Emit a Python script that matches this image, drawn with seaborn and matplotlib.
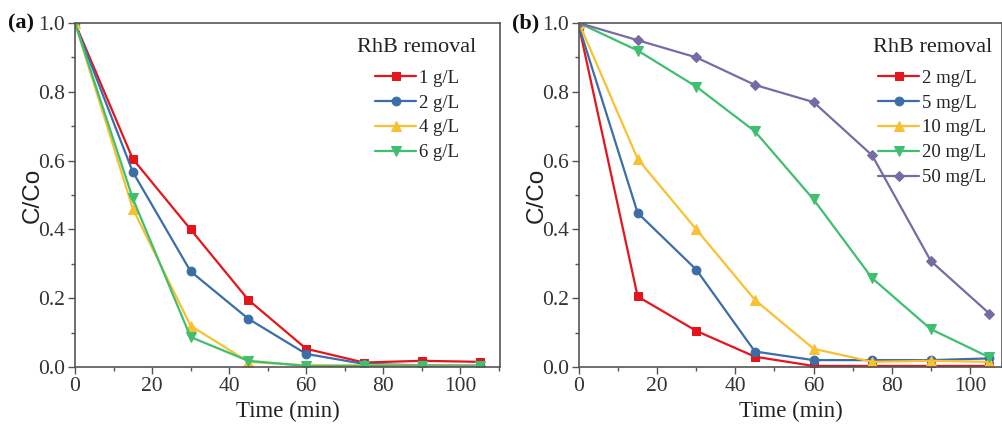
import matplotlib
matplotlib.use("Agg")
import matplotlib.pyplot as plt
import seaborn as sns
import numpy as np
from matplotlib.ticker import MultipleLocator, FormatStrFormatter

sns.set_theme(style="ticks")
plt.rcParams['font.family'] = ['Liberation Serif', 'DejaVu Serif']

time = [0, 15, 30, 45, 60, 75, 90, 105]

# Panel (a): catalyst dosage
labels_a = ["1 g/L", "2 g/L", "4 g/L", "6 g/L"]
a_1 = [1.0, 0.605, 0.400, 0.195, 0.053, 0.013, 0.018, 0.015]
a_2 = [1.0, 0.567, 0.278, 0.140, 0.038, 0.009, 0.005, 0.004]
a_4 = [1.0, 0.460, 0.120, 0.015, 0.005, 0.005, 0.004, 0.003]
a_6 = [1.0, 0.490, 0.087, 0.018, 0.003, 0.003, 0.002, 0.002]

# Panel (b): initial RhB concentration
labels_b = ["2 mg/L", "5 mg/L", "10 mg/L", "20 mg/L", "50 mg/L"]
b_2 = [0.99, 0.205, 0.105, 0.030, 0.003, 0.003, 0.003, 0.003]
b_5 = [0.99, 0.448, 0.283, 0.045, 0.020, 0.020, 0.020, 0.025]
b_10 = [1.0, 0.605, 0.400, 0.195, 0.053, 0.015, 0.018, 0.015]
b_20 = [1.0, 0.920, 0.815, 0.685, 0.487, 0.258, 0.110, 0.028]
b_50 = [1.0, 0.950, 0.900, 0.820, 0.770, 0.615, 0.308, 0.155]

colors = ["#e8141c", "#3b6ea8", "#f7c131", "#3fbf6f", "#776ba6"]
markers = ["s", "o", "^", "v", "D"]
msizes = [6, 6.3, 7, 7, 5.3]

fig = plt.figure(figsize=(10.03, 4.25), dpi=100)
W, H = 1003, 425
ax_a = fig.add_axes([75 / W, 1 - 367 / H, 425 / W, 344 / H])
ax_b = fig.add_axes([579 / W, 1 - 367 / H, 423 / W, 344 / H])

spine_col = "#555555"
for ax, series, labels, xmax, tag, legx in [
    (ax_a, [a_1, a_2, a_4, a_6], labels_a, 110.3, "(a)", 0.967),
    (ax_b, [b_2, b_5, b_10, b_20, b_50], labels_b, 108.2, "(b)", 0.998),
]:
    for i, (y, lab) in enumerate(zip(series, labels)):
        sns.lineplot(x=time, y=y, ax=ax, color=colors[i], marker=markers[i],
                     markersize=msizes[i], markeredgecolor=colors[i],
                     linewidth=1.6, label=lab)
    ax.set_xlim(0, xmax)
    ax.set_ylim(0, 1.0)
    ax.xaxis.set_major_locator(MultipleLocator(20))
    ax.xaxis.set_minor_locator(MultipleLocator(10))
    ax.yaxis.set_major_locator(MultipleLocator(0.2))
    ax.yaxis.set_minor_locator(MultipleLocator(0.1))
    ax.yaxis.set_major_formatter(FormatStrFormatter('%.1f'))
    ax.tick_params(which='major', direction='out', length=5, width=1.0,
                   colors=spine_col, labelsize=15.5, labelcolor="#333333", pad=2)
    ax.tick_params(which='minor', direction='out', length=3, width=1.0, colors=spine_col)
    for s in ax.spines.values():
        s.set_color(spine_col)
        s.set_linewidth(1.2)
    ax.set_xlabel("Time (min)", fontsize=16.5, color="#222222", labelpad=4)
    ax.set_ylabel("C/Co", fontsize=17.5, color="#222222", family=['Liberation Sans'], labelpad=-4)
    leg = ax.legend(title="RhB removal", loc="upper right", frameon=False,
                    fontsize=13.5, title_fontsize=16, handlelength=2.2,
                    handletextpad=0.15, labelspacing=0.41, borderpad=0,
                    bbox_to_anchor=(legx, 0.985))
    leg._legend_box.sep = 9.5
    leg.get_title().set_color("#222222")
    for t in leg.get_texts():
        t.set_color("#222222")
    ax.text(-0.158, 1.0, tag, transform=ax.transAxes, fontsize=16,
            fontweight='bold', ha='left', va='center', color="#111111")

fig.savefig("out.png", dpi=100)
